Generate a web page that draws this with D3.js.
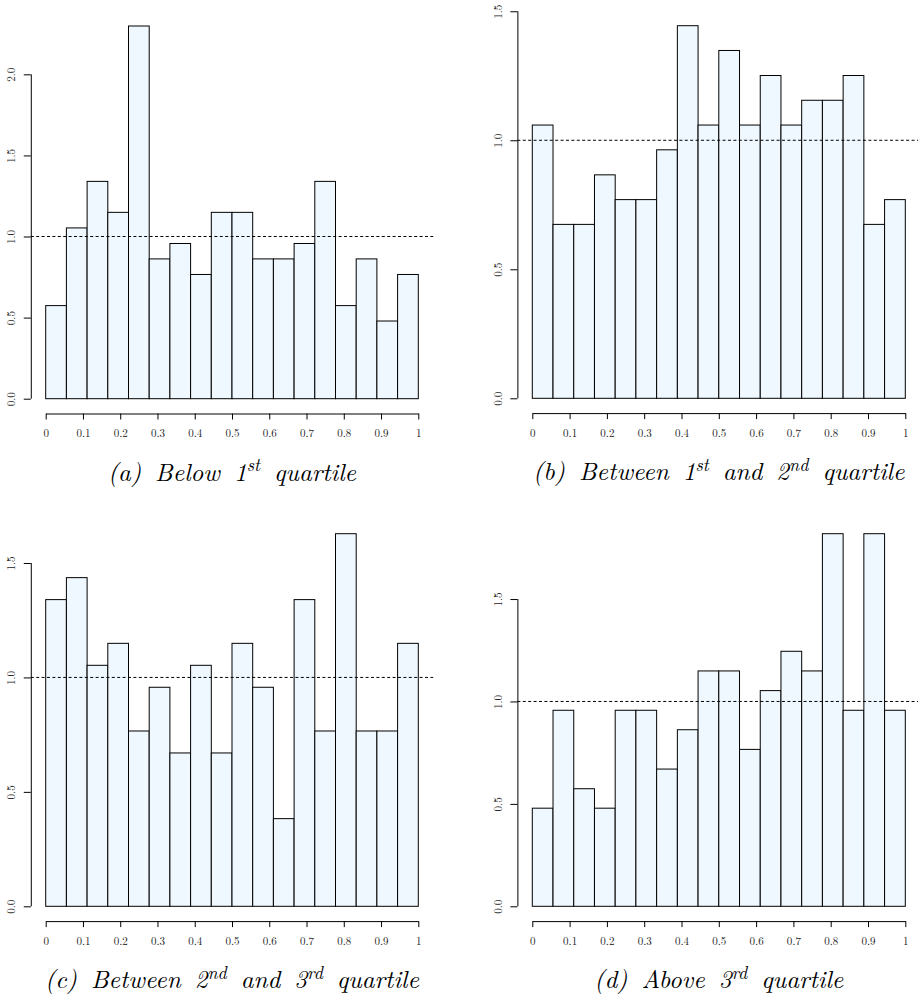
<!DOCTYPE html>
<html>
<head>
<meta charset="utf-8">
<script src="https://cdn.jsdelivr.net/npm/d3@7"></script>
<style>
  html, body { margin: 0; padding: 0; background: #fff; }
  svg { display: block; }
</style>
</head>
<body>
<script>
// Histogram densities over 18 equal-width bins on [0, 1], one array per quartile group
const belowQ1  = [0.574, 1.053, 1.340, 1.149, 2.298, 0.862, 0.957, 0.766, 1.149,
                  1.149, 0.862, 0.862, 0.957, 1.340, 0.574, 0.862, 0.479, 0.766];
const q1ToQ2   = [1.059, 0.674, 0.674, 0.866, 0.770, 0.770, 0.963, 1.444, 1.059,
                  1.348, 1.059, 1.251, 1.059, 1.155, 1.155, 1.251, 0.674, 0.770];
const q2ToQ3   = [1.340, 1.436, 1.053, 1.149, 0.766, 0.957, 0.670, 1.053, 0.670,
                  1.149, 0.957, 0.383, 1.340, 0.766, 1.628, 0.766, 0.766, 1.149];
const aboveQ3  = [0.479, 0.957, 0.574, 0.479, 0.957, 0.957, 0.670, 0.862, 1.149,
                  1.149, 0.766, 1.053, 1.245, 1.149, 1.819, 0.957, 1.819, 0.957];

// Histogram breaks: 18 equal bins on [0, 1]
const binEdges = d3.range(19).map(i => i / 18);

// Axis tick values
const xTicks = [0, 0.1, 0.2, 0.3, 0.4, 0.5, 0.6, 0.7, 0.8, 0.9, 1];
const yTicksWide = [0, 0.5, 1.0, 1.5, 2.0];
const yTicks = [0, 0.5, 1.0, 1.5];

// Uniform reference density
const refLevel = 1;

// Sub-captions: [text, isSuperscript]
const captionA = [["(a) Below 1", false], ["st", true], [" quartile", false]];
const captionB = [["(b) Between 1", false], ["st", true], [" and 2", false], ["nd", true], [" quartile", false]];
const captionC = [["(c) Between 2", false], ["nd", true], [" and 3", false], ["rd", true], [" quartile", false]];
const captionD = [["(d) Above 3", false], ["rd", true], [" quartile", false]];

// Panel layout (pixel frame of each histogram)
const layout = [
  { values: belowQ1, ticks: yTicksWide, caption: captionA, left: 45.7,  right: 418.3, base: 398.7, top: 26.0 },
  { values: q1ToQ2,  ticks: yTicks,     caption: captionB, left: 532.3, right: 905.3, base: 398.3, top: 25.7 },
  { values: q2ToQ3,  ticks: yTicks,     caption: captionC, left: 45.7,  right: 418.3, base: 906.3, top: 533.7 },
  { values: aboveQ3, ticks: yTicks,     caption: captionD, left: 532.3, right: 905.3, base: 906.3, top: 533.7 }
];

const serif = "'Latin Modern Roman', 'Liberation Serif', serif";

const svg = d3.select("body").append("svg")
  .attr("width", 918)
  .attr("height", 996);

layout.forEach(p => {
  const g = svg.append("g");

  const x = d3.scaleLinear().domain([0, 1]).range([p.left, p.right]);
  const y = d3.scaleLinear().domain([0, d3.max(p.values)]).range([p.base, p.top]);

  // plot region spans 4% beyond [0, 1]
  const regionLeft = x(-0.04);
  const regionRight = x(1.04);

  // bars
  g.append("g")
    .selectAll("rect")
    .data(p.values)
    .join("rect")
      .attr("x", (d, i) => x(binEdges[i]))
      .attr("width", (d, i) => x(binEdges[i + 1]) - x(binEdges[i]))
      .attr("y", d => y(d))
      .attr("height", d => y(0) - y(d))
      .attr("fill", "#F0F8FF")
      .attr("stroke", "#000")
      .attr("stroke-width", 1);

  // dashed uniform-density line
  g.append("line")
    .attr("x1", regionLeft)
    .attr("x2", regionRight)
    .attr("y1", y(refLevel))
    .attr("y2", y(refLevel))
    .attr("stroke", "#000")
    .attr("stroke-width", 1)
    .attr("stroke-dasharray", "3,2.4");

  // y axis
  const yAxis = g.append("g")
    .attr("transform", `translate(${regionLeft},0)`)
    .call(d3.axisLeft(y)
      .tickValues(p.ticks)
      .tickSize(7)
      .tickSizeOuter(0)
      .tickFormat(d3.format(".1f")));
  yAxis.select(".domain").remove();
  yAxis.append("line")
    .attr("x1", 0.5).attr("x2", 0.5)
    .attr("y1", y(p.ticks[0]))
    .attr("y2", y(p.ticks[p.ticks.length - 1]))
    .attr("stroke", "#000");
  yAxis.selectAll(".tick line").attr("stroke", "#000");
  yAxis.selectAll(".tick text")
    .attr("transform", "rotate(-90)")
    .attr("x", 0)
    .attr("y", -15.4)
    .attr("dy", 0)
    .attr("text-anchor", "middle")
    .attr("fill", "#222")
    .style("font-family", serif)
    .style("font-size", "11px");

  // x axis, offset below the bars
  const xAxis = g.append("g")
    .attr("transform", `translate(0,${p.base + 14.8})`)
    .call(d3.axisBottom(x)
      .tickValues(xTicks)
      .tickSize(6)
      .tickSizeOuter(0)
      .tickFormat(d => String(d)));
  xAxis.selectAll(".domain, .tick line").attr("stroke", "#000");
  xAxis.selectAll(".tick text")
    .attr("y", 23.5)
    .attr("dy", 0)
    .attr("fill", "#222")
    .style("font-family", serif)
    .style("font-size", "11px");

  // sub-caption
  const cap = g.append("text")
    .attr("x", x(0.5))
    .attr("y", p.base + 82)
    .attr("text-anchor", "middle")
    .style("font-family", serif)
    .style("font-style", "italic")
    .style("font-size", "25px")
    .style("word-spacing", "5px")
    .attr("fill", "#000");
  let raised = false;
  p.caption.forEach(([t, sup]) => {
    const span = cap.append("tspan").text(t);
    if (sup) {
      span.style("font-size", "18px");
      if (!raised) { span.attr("dy", -9.5); raised = true; }
    } else if (raised) {
      span.attr("dy", 9.5);
      raised = false;
    }
  });
});
</script>
</body>
</html>
